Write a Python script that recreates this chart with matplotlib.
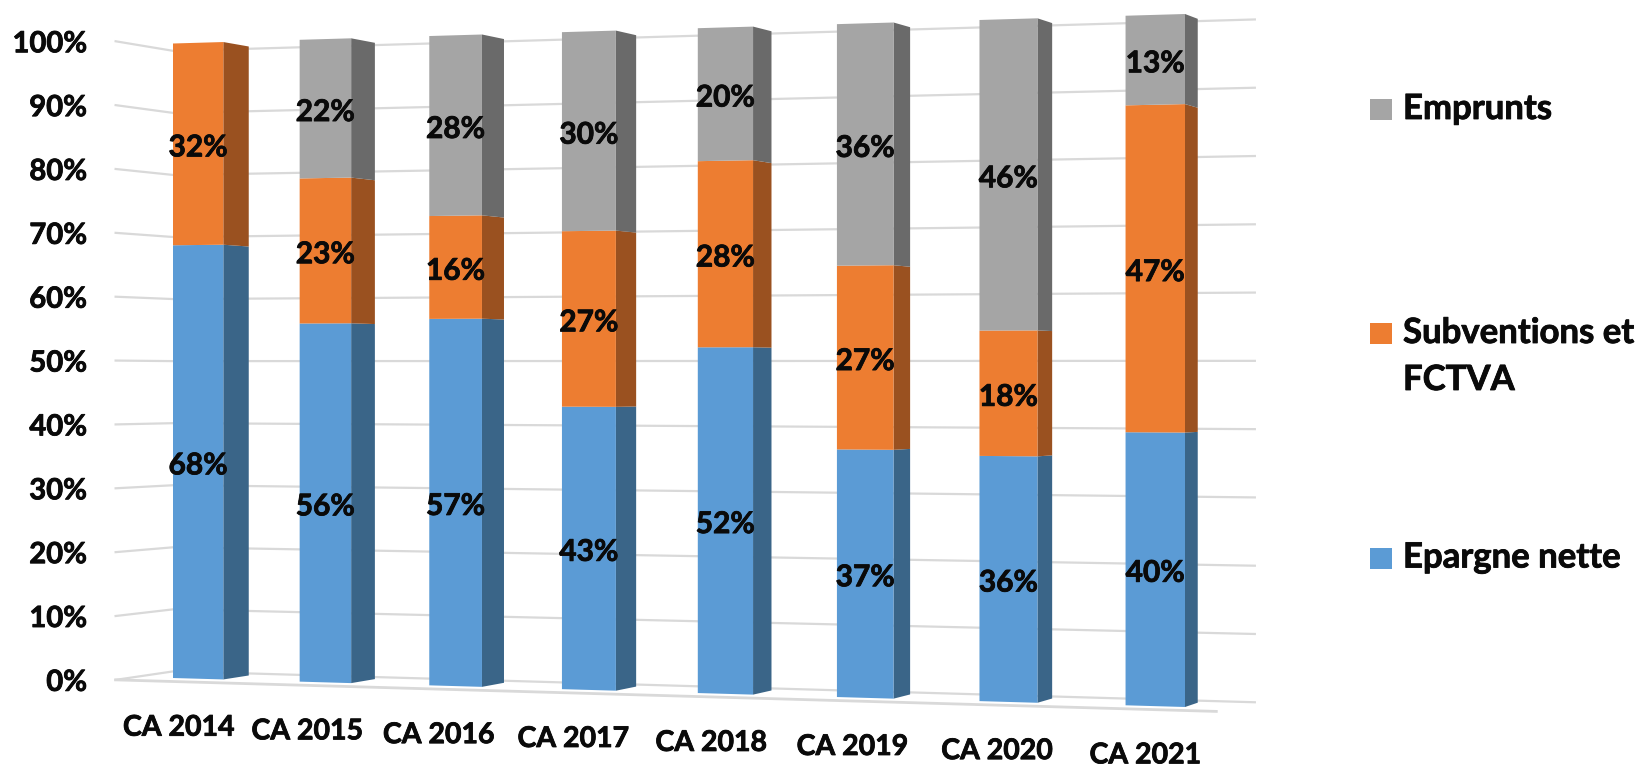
import matplotlib
matplotlib.use("Agg")
import matplotlib.pyplot as plt
import matplotlib.patheffects as pe
import numpy as np
from matplotlib.transforms import Transform

categories = ["CA 2014", "CA 2015", "CA 2016", "CA 2017", "CA 2018", "CA 2019", "CA 2020", "CA 2021"]
epargne = [68.2, 55.8, 57, 43, 52, 36.8, 36, 39.6]
subventions = [31.8, 22.6, 16, 26.7, 28, 27.3, 18.4, 47.4]
emprunts = [0, 21.6, 28, 30.3, 20, 35.9, 45.6, 13]
pct_ticks = [0, 10, 20, 30, 40, 50, 60, 70, 80, 90, 100]

series = [epargne, subventions, emprunts]
front_colors = ["#5B9BD5", "#ED7D31", "#A5A5A5"]
side_colors = ["#3A6588", "#9A5120", "#6A6A6A"]
grid_color = "#D9D9D9"
bar_w = 0.4

# perspective of the fake 3d chart: bar front plane pinned on 4 pixel corners
src = [(-0.2, 100), (-0.2, 0), (7.2, 100), (7.2, 0)]
dst = [(173, 43.5), (173, 678), (1185, 14), (1185, 707)]
A = []
b = []
for (u, v), (x, y) in zip(src, dst):
    A.append([u, v, 1, 0, 0, 0, -u * x, -v * x])
    A.append([0, 0, 0, u, v, 1, -u * y, -v * y])
    b += [x, y]
H = np.append(np.linalg.solve(np.array(A, float), np.array(b, float)), 1).reshape(3, 3)
VP = np.array([2150.0, 380.0])  # where the depth lines meet
BAR_D = 0.0132
WALL_D = 0.019
FLOOR_D = -0.0099


def project(u, v, d=0.0):
    p = H @ np.array([u, v, 1.0])
    p = p[:2] / p[2]
    return p + d * (VP - p)


class Perspective(Transform):
    input_dims = 2
    output_dims = 2

    def transform_non_affine(self, values):
        return np.array([project(u, v) for u, v in np.asarray(values)])


fig = plt.figure(figsize=(16.43, 7.66), dpi=100)
ax = fig.add_axes([0, 0, 1, 1])
ax.set_xlim(0, 1643)
ax.set_ylim(766, 0)
ax.set_autoscale_on(False)
ax.axis("off")

# reference text is a blurry heavy Calibri, thicken Lato a little
thick = [pe.withStroke(linewidth=0.6, foreground="#0A0A0A")]
font = {"family": ["Lato", "DejaVu Sans"], "color": "#0A0A0A", "fontweight": "bold", "path_effects": thick}

# walls
for t in pct_ticks:
    pts = [project(-0.5, t, FLOOR_D), project(-0.5, t, WALL_D), project(7.55, t, WALL_D)]
    ax.plot([p[0] for p in pts], [p[1] for p in pts], color=grid_color, lw=1.6, zorder=1)
    lx, ly = project(-0.5, t, FLOOR_D)
    ax.text(87, ly + 3, f"{t}%", ha="right", va="center", fontsize=21, **font)
a = project(-0.5, 0, FLOOR_D)
c = project(7.47, 0, FLOOR_D)
ax.plot([a[0], c[0]], [a[1], c[1]], color=grid_color, lw=2, zorder=1)

# stacked bars
xs = np.arange(len(categories))
totals = np.sum(series, axis=0)
bottom = np.zeros(len(categories))
persp = Perspective() + ax.transData
for vals, fc, sc in zip(series, front_colors, side_colors):
    h = 100 * np.array(vals) / totals
    ax.bar(xs, h, width=bar_w, bottom=bottom, color=fc, lw=0, transform=persp, zorder=3)
    for i in xs:
        if vals[i] == 0:
            continue
        r = i + bar_w / 2
        lo, hi = bottom[i], bottom[i] + h[i]
        side = [project(r, lo), project(r, hi), project(r, hi, BAR_D), project(r, lo, BAR_D)]
        ax.fill([p[0] for p in side], [p[1] for p in side], color=sc, lw=0, zorder=2)
        lx, ly = project(i, lo + h[i] / 2)
        ax.text(lx, ly + 3.5, f"{round(vals[i])}%", ha="center", va="center", fontsize=21.5, zorder=5, **font)
    bottom += h

for i, name in zip(xs, categories):
    lx, ly = project(i, 0, FLOOR_D)
    ax.text(lx, ly + 46, name, ha="center", va="center", fontsize=20.5, **font)

# legend
legend_names = ["Emprunts", "Subventions et\nFCTVA", "Epargne nette"]
legend_colors = ["#A5A5A5", "#ED7D31", "#5B9BD5"]
legend_ys = [109.5, 333.5, 558]
for name, col, y in zip(legend_names, legend_colors, legend_ys):
    ax.fill([1370, 1391.5, 1391.5, 1370], [y - 10.5, y - 10.5, y + 10.5, y + 10.5], color=col, lw=0)
    for k, line in enumerate(name.split("\n")):
        ax.text(1403, y + 9.5 + 47 * k, line, ha="left", va="baseline", fontsize=25, **font)

fig.savefig("out.png", dpi=100)
